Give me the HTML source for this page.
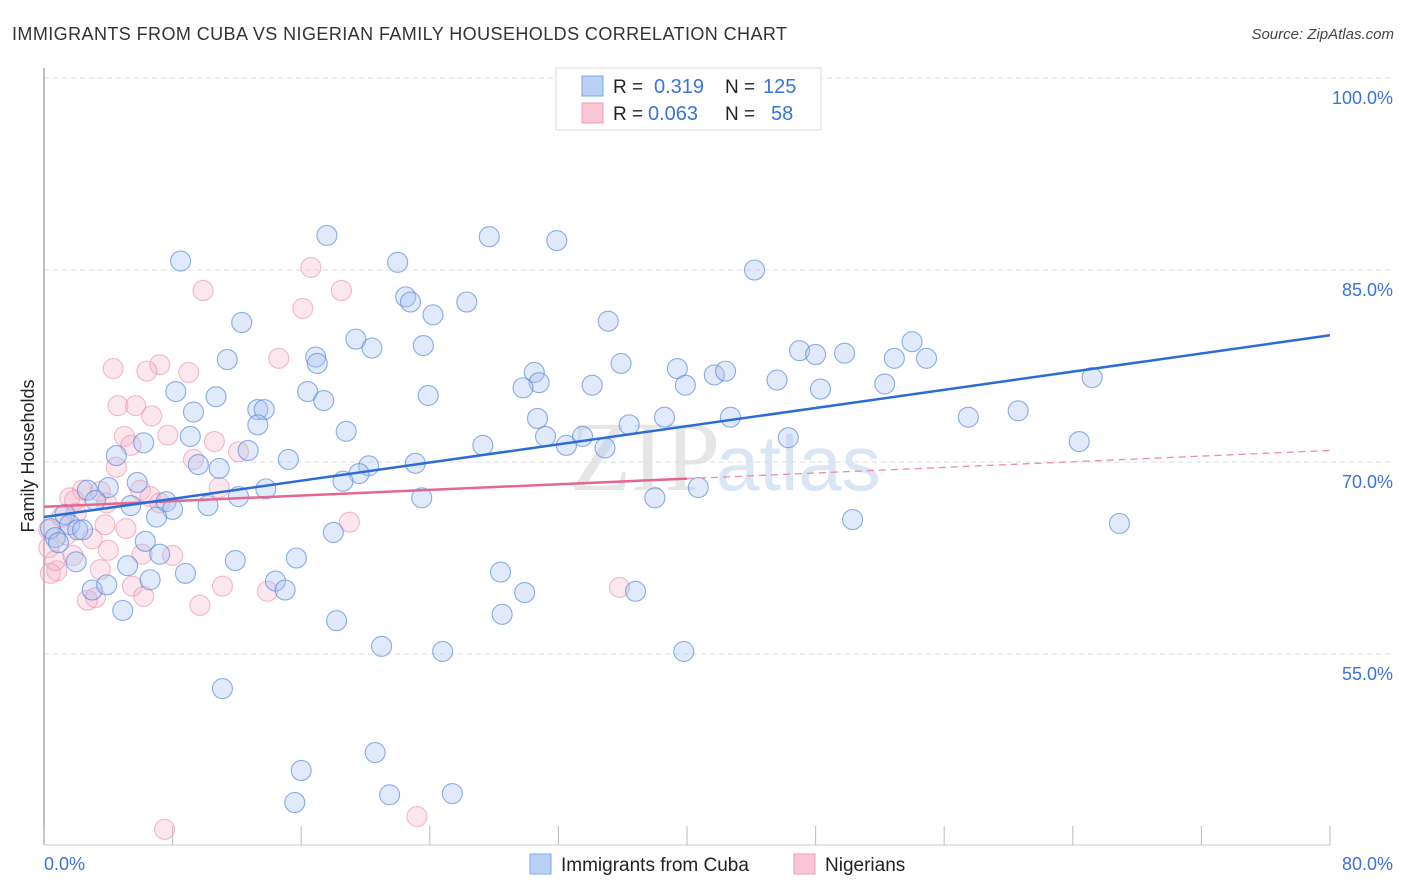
<!DOCTYPE html>
<html><head><meta charset="utf-8"><style>
body{margin:0;background:#fff;font-family:"Liberation Sans",sans-serif;}
svg{display:block}
</style></head><body>
<svg id="chart" width="1406" height="892">
<text x="12" y="40" font-size="18" fill="#333" textLength="775">IMMIGRANTS FROM CUBA VS NIGERIAN FAMILY HOUSEHOLDS CORRELATION CHART</text>
<text x="1394" y="39" font-size="15" fill="#444" font-style="italic" text-anchor="end">Source: ZipAtlas.com</text>
<text x="720" y="490" font-size="100" fill="#e6e6e6" text-anchor="end" font-family="Liberation Serif">ZIP</text>
<text x="716" y="490" font-size="78" fill="#dbe6f5">atlas</text>
<g id="grid"></g>
<line x1="44" y1="68" x2="44" y2="845" stroke="#aaa" stroke-width="1.5"/>
<line x1="44" y1="845" x2="1330" y2="845" stroke="#ccc" stroke-width="1"/>
<g id="xticks"></g>
<text font-size="18" fill="#222" transform="rotate(-90 28 456)" text-anchor="middle"><tspan x="28" y="462">Family Households</tspan></text>
<g id="pink"></g><g id="blue"></g><g id="trends"></g>
<text x="44" y="870" font-size="18" fill="#3b73d9">0.0%</text>
<text x="1393" y="870" font-size="18" fill="#3b73d9" text-anchor="end">80.0%</text>
<g>
<rect x="556" y="68" width="265" height="62" fill="#fff" stroke="#ddd"/>
<rect x="582" y="76" width="21" height="20" fill="#b8d1f5" stroke="#7ea6e6"/>
<rect x="582" y="103" width="21" height="20" fill="#f9c6d6" stroke="#ef9db8"/>
<text x="613" y="93" font-size="19" fill="#222">R = </text><text x="654" y="93" font-size="20" fill="#3b73d9">0.319</text>
<text x="725" y="93" font-size="19" fill="#222">N = </text><text x="763" y="93" font-size="20" fill="#3b73d9">125</text>
<text x="613" y="120" font-size="19" fill="#222">R = </text><text x="648" y="120" font-size="20" fill="#3b73d9">0.063</text>
<text x="725" y="120" font-size="19" fill="#222">N = </text><text x="771" y="120" font-size="20" fill="#3b73d9">58</text>
</g>
<g>
<rect x="530" y="854" width="21" height="20" fill="#b8d1f5" stroke="#7ea6e6"/>
<text x="561" y="871" font-size="19" fill="#222">Immigrants from Cuba</text></g>
<g>
<rect x="794" y="854" width="21" height="20" fill="#f9c6d6" stroke="#ef9db8"/>
<text x="825" y="871" font-size="19" fill="#222">Nigerians</text></g>
</svg>
<script>
const yTicks=[55,70,85,100];
const yTickLabels=["55.0%","70.0%","85.0%","100.0%"];
const xTicks=[0,8,16,24,32,40,48,56,64,72,80];
const blueX=[8.5,17.6,27.7,31.9,22.0,44.2,22.5,22.8,26.3,24.2,12.3,35.1,19.4,20.4,23.6,11.4,16.9,17.0,47.0,48.0,49.8,54.0,52.9,54.9,35.9,39.4,41.7,42.4,30.5,30.8,29.8,34.1,39.9,45.6,48.3,52.3,65.2,8.2,10.7,16.4,17.4,23.9,9.3,13.3,13.7,13.3,18.8,30.7,36.4,38.6,42.7,57.5,60.6,9.1,31.2,33.5,27.3,32.5,46.3,64.4,6.2,12.7,4.5,9.6,10.9,15.2,20.2,23.1,34.9,19.6,18.6,5.8,4.0,2.7,7.6,10.2,12.1,13.8,23.5,38.0,40.7,3.2,5.4,8.0,7.0,66.9,50.3,1.3,1.6,0.4,2.1,2.4,0.7,0.9,6.3,7.2,18.0,2.0,11.9,15.7,5.2,6.6,8.8,3.0,3.9,14.4,15.0,28.4,29.9,36.8,4.9,18.2,28.5,21.0,24.8,39.8,11.1,20.6,16.0,15.6,21.5,25.4];
const blueY=[85.7,87.7,87.6,87.3,85.6,85.0,82.9,82.5,82.5,81.5,80.9,81.0,79.6,78.9,79.1,78.0,78.2,77.7,78.7,78.4,78.5,79.4,78.1,78.1,77.7,77.3,76.8,77.1,77.0,76.2,75.8,76.0,76.0,76.4,75.7,76.1,76.6,75.5,75.1,75.5,74.8,75.2,73.9,74.1,74.1,72.9,72.4,73.4,72.9,73.5,73.5,73.5,74.0,72.0,72.0,72.0,71.3,71.3,71.9,71.6,71.5,70.9,70.5,69.8,69.5,70.2,69.7,69.9,71.1,69.1,68.5,68.4,68.0,67.8,66.9,66.6,67.3,67.9,67.2,67.2,68.0,67.0,66.6,66.3,65.7,65.2,65.5,65.9,65.1,64.8,64.7,64.7,64.1,63.7,63.8,62.8,64.5,62.2,62.3,62.5,61.9,60.8,61.3,60.0,60.4,60.7,60.0,61.4,59.8,59.9,58.4,57.6,58.1,55.6,55.2,55.2,52.3,47.3,45.9,43.4,44.0,44.1];
const pinkX=[16.6,9.9,18.5,16.1,14.6,4.3,7.2,6.4,9.0,4.6,5.7,6.7,5.0,7.7,5.4,10.6,9.3,4.5,12.1,10.9,2.4,3.5,6.0,1.6,1.9,3.9,6.6,2.0,1.1,3.8,5.1,19.0,3.0,1.4,4.0,0.3,6.1,8.0,3.5,0.8,0.4,5.5,11.1,13.9,35.8,2.7,3.2,6.2,9.7,7.5,23.2,0.3,0.7,1.8,7.2];
const pinkY=[85.2,83.4,83.4,82.0,78.1,77.3,77.6,77.1,77.0,74.4,74.4,73.6,72.0,72.1,71.3,71.6,70.2,69.6,70.8,68.0,67.8,67.7,67.8,67.2,67.0,66.8,67.3,66.0,65.7,65.1,64.8,65.3,64.0,64.3,63.1,63.3,62.8,62.7,61.6,61.5,61.3,60.3,60.3,59.9,60.2,59.2,59.4,59.5,58.8,41.3,42.3,64.7,62.3,62.7,66.8];
const blueTrend=[65.7,79.9];
const pinkTrend=[66.5,70.9];
const pinkSolidEnd=40;
const NS="http://www.w3.org/2000/svg";
const X0=44,X1=1330,Y0=845,Y1=78;
function sx(v){return X0+(v/80)*(X1-X0);}
function sy(v){return Y1+(100-v)*12.8;}
function mk(tag,attrs,parent){const e=document.createElementNS(NS,tag);for(const k in attrs)e.setAttribute(k,attrs[k]);parent.appendChild(e);return e;}
const grid=document.getElementById('grid');
yTicks.forEach((t,i)=>{
 const l=mk('line',{x1:44,x2:1395,y1:sy(t),y2:sy(t),stroke:'#ddd','stroke-dasharray':'5,4'},grid);
 
 
 const tx=mk('text',{x:1393,y:sy(t)+26,'font-size':18,fill:'#3b73d9','text-anchor':'end'},grid);
 tx.textContent=yTickLabels[i];
 
 
});
const xt=document.getElementById('xticks');
xTicks.forEach(t=>{
 const l=mk('line',{x1:sx(t),x2:sx(t),y1:826,y2:845,stroke:'#bbb'},xt);
 
 
});
function pts(xs,ys,g,fill,stroke,name){
 xs.forEach((x,i)=>{
  const c=mk('circle',{cx:sx(x),cy:sy(ys[i]),r:10,fill:fill,stroke:stroke,'stroke-width':1.1},g);
  
  
 });
}
pts(pinkX,pinkY,document.getElementById('pink'),'rgba(246,176,200,0.3)','rgba(236,140,172,0.6)','nigerians-point');
pts(blueX,blueY,document.getElementById('blue'),'rgba(165,196,240,0.35)','rgba(80,132,218,0.65)','cuba-point');
const tr=document.getElementById('trends');
const pm=pinkTrend[0]+(pinkTrend[1]-pinkTrend[0])*pinkSolidEnd/80;
const pd=mk('line',{x1:sx(pinkSolidEnd),y1:sy(pm),x2:sx(80),y2:sy(pinkTrend[1]),stroke:'#ee8aaa','stroke-width':1.3,'stroke-dasharray':'7,5'},tr);


const ps=mk('line',{x1:sx(0),y1:sy(pinkTrend[0]),x2:sx(pinkSolidEnd),y2:sy(pm),stroke:'#e5668f','stroke-width':2.5},tr);


const bl=mk('line',{x1:sx(0),y1:sy(blueTrend[0]),x2:sx(80),y2:sy(blueTrend[1]),stroke:'#2a6dd6','stroke-width':2.5},tr);


</script>
</body></html>
